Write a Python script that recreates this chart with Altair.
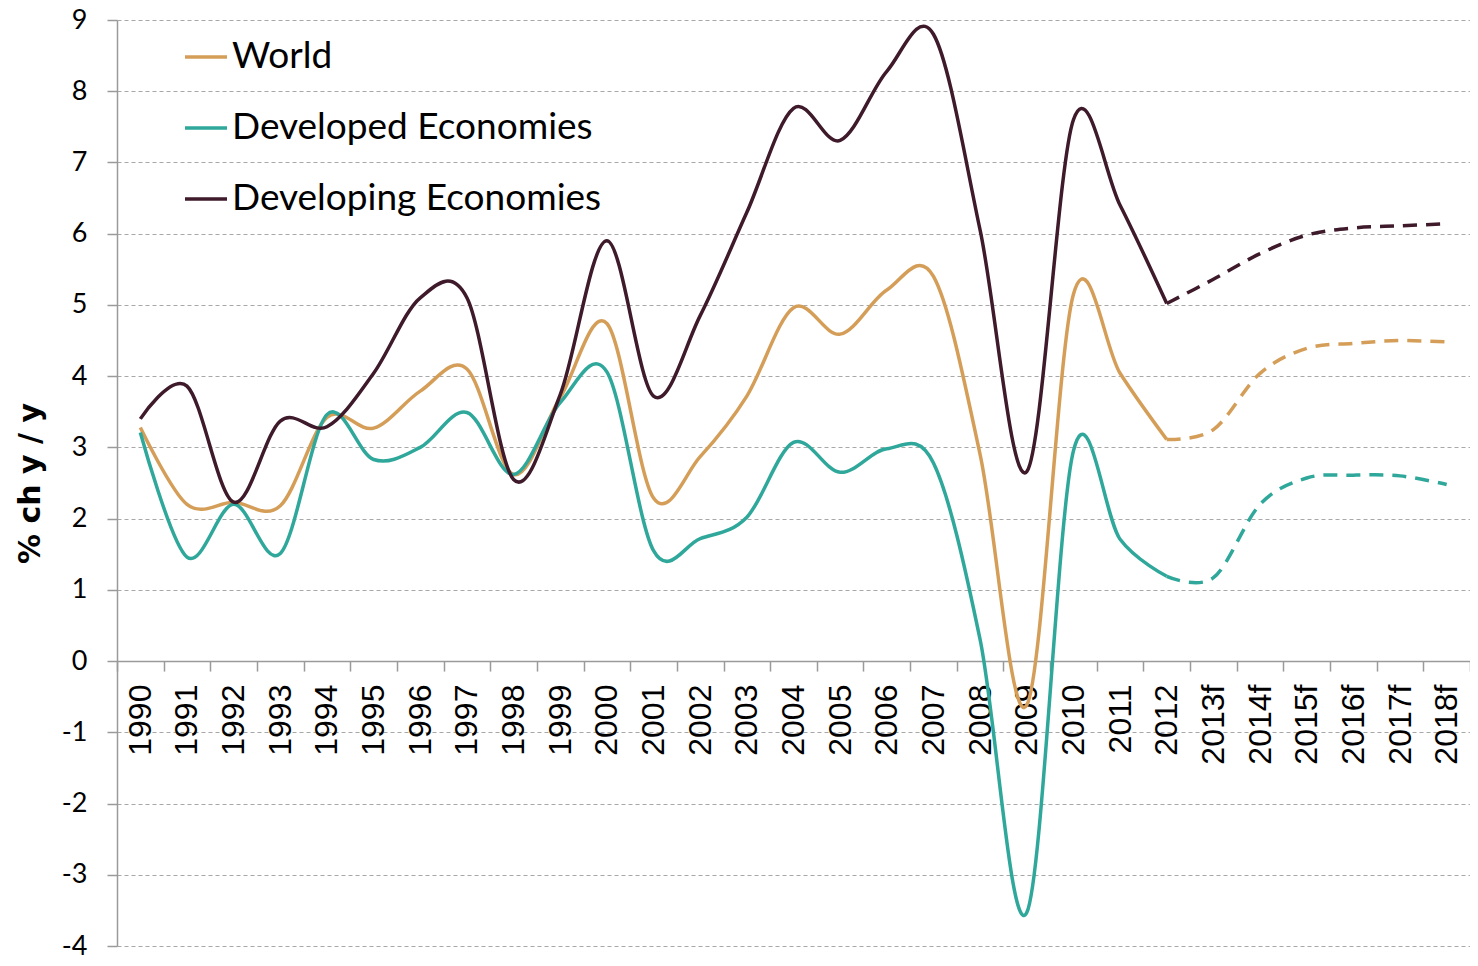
import altair as alt
import pandas as pd

years = [str(y) for y in range(1990, 2013)] + ["2013f", "2014f", "2015f", "2016f", "2017f", "2018f"]

world = [3.28, 2.20, 2.23, 2.18, 3.42, 3.27, 3.79, 4.10, 2.62, 3.70,
         4.74, 2.29, 2.87, 3.72, 4.96, 4.59, 5.21, 5.40, 2.90, -0.62,
         5.15, 4.04, 3.11, 3.25, 4.04, 4.39, 4.46, 4.50, 4.48]
developed = [3.21, 1.46, 2.20, 1.51, 3.46, 2.83, 3.00, 3.49, 2.62, 3.63,
             4.06, 1.55, 1.72, 2.02, 3.07, 2.65, 2.98, 2.78, 0.30, -3.53,
             2.95, 1.71, 1.19, 1.17, 2.20, 2.57, 2.61, 2.60, 2.48]
developing = [3.40, 3.86, 2.23, 3.37, 3.29, 4.04, 5.10, 5.10, 2.55, 3.74,
              5.90, 3.72, 4.85, 6.30, 7.76, 7.31, 8.28, 8.80, 6.05, 2.66,
              7.60, 6.40, 5.02, 5.36, 5.72, 5.98, 6.08, 6.11, 6.14]

series_names = ["World", "Developed Economies", "Developing Economies"]
colors = ["#D59E58", "#2FA89B", "#3E1A2B"]
y_ticks = list(range(-4, 10))
last_actual = "2012"

rows = []
for name, vals in zip(series_names, [world, developed, developing]):
    for i, (yr, v) in enumerate(zip(years, vals)):
        rows.append({"series": name, "year": yr, "value": v, "idx": i})
df = pd.DataFrame(rows)
cut = years.index(last_actual)
actual = df[df["idx"] <= cut]
forecast = df[df["idx"] >= cut]

PLOT_W = 1353
PLOT_H = 926
zero_offset = -(PLOT_H * 4 / 13)

x_enc = alt.X(
    "year:N",
    sort=years,
    bandPosition=0.5,
    scale=alt.Scale(type="band", domain=years, paddingInner=0, paddingOuter=0),
    axis=alt.Axis(
        title=None,
        labelAngle=270,
        labelAlign="right",
        labelBaseline="middle",
        labelFont="Liberation Sans",
        labelFontSize=32,
        labelColor="black",
        labelPadding=13,
        labelOverlap=False,
        tickBand="extent",
        tickSize=10,
        tickColor="#9a9a9a",
        tickWidth=1.5,
        domainColor="#9a9a9a",
        domainWidth=1.5,
        offset=zero_offset,
        grid=False,
    ),
)

y_enc = alt.Y(
    "value:Q",
    scale=alt.Scale(domain=[-4, 9], nice=False, zero=False),
    axis=alt.Axis(
        values=y_ticks,
        labelExpr="datum.value + ''",
        title="% ch y / y",
        titleFont="DejaVu Sans",
        titleFontSize=30,
        titleFontWeight="bold",
        titleColor="black",
        titleAngle=270,
        titleAlign="center",
        titleBaseline="middle",
        titleX=-87,
        titleY=PLOT_H / 2,
        labelFont="Lato",
        labelFontSize=27,
        labelColor="black",
        labelPadding=20,
        tickSize=10,
        tickColor="#9a9a9a",
        tickWidth=1.5,
        domainColor="#9a9a9a",
        domainWidth=1.5,
        grid=True,
        gridColor="#a8a8a8",
        gridDash=[4, 3],
        gridWidth=1,
    ),
)

color_enc = alt.Color(
    "series:N",
    scale=alt.Scale(domain=series_names, range=colors),
    legend=alt.Legend(
        title=None,
        orient="none",
        legendX=66,
        legendY=14,
        symbolType="stroke",
        symbolSize=1764,
        symbolStrokeWidth=3.5,
        symbolDash=[1, 0],
        labelFont="Lato",
        labelFontSize=37,
        labelColor="black",
        labelLimit=0,
        labelOffset=3,
        rowPadding=30,
        padding=0,
    ),
)

solid = alt.Chart(actual).mark_line(strokeWidth=3.5, interpolate="cardinal").encode(
    x=x_enc, y=y_enc, color=color_enc, order=alt.Order("idx:Q")
)
dashed = alt.Chart(forecast).mark_line(strokeWidth=3.5, interpolate="cardinal", strokeDash=[14, 9]).encode(
    x=x_enc, y=y_enc, color=color_enc, order=alt.Order("idx:Q")
)

chart = alt.layer(solid, dashed).properties(
    width=PLOT_W,
    height=PLOT_H,
    autosize=alt.AutoSizeParams(type="none"),
    padding={"left": 109, "top": 12, "right": 0, "bottom": 12},
).configure_view(stroke=None)

chart.save("out.html", embed_options={"renderer": "svg", "actions": False})
